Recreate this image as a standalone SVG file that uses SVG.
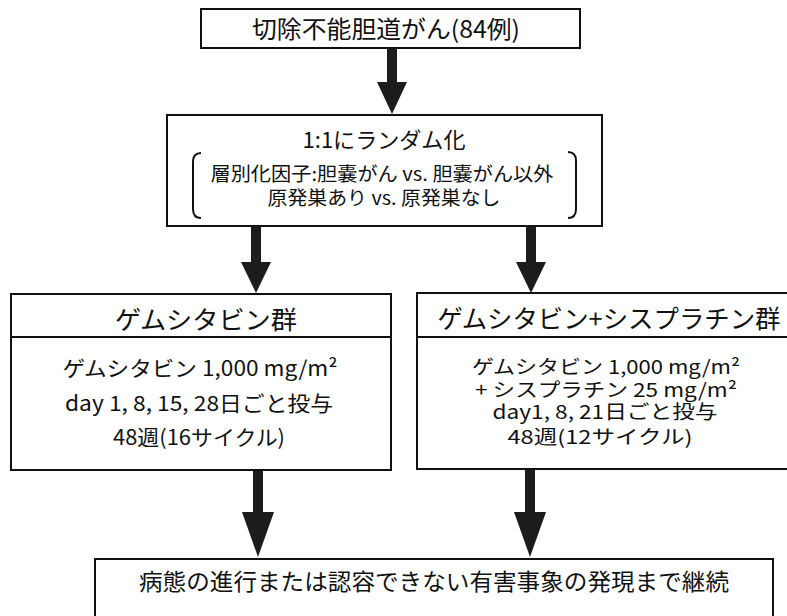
<svg xmlns="http://www.w3.org/2000/svg" width="787" height="616" viewBox="0 0 787 616">
<style>
.box{fill:#fff;stroke:#111;stroke-width:2}
.t{font-family:"Noto Sans CJK JP","Noto Sans",sans-serif;fill:#111;text-anchor:middle}
.arr{fill:#1c1c1c}
.br{fill:none;stroke:#111;stroke-width:2}
</style>
<rect width="787" height="616" fill="#fff"/>
<g id="connectors">
  <path class="arr" d="M387,48 H397 V82 H407 L392,114 L377,82 H387 Z"/>
  <path class="arr" d="M251,226 H261 V262 H271 L256,293 L241,262 H251 Z"/>
  <path class="arr" d="M526,226 H536 V262 H546 L531,293 L516,262 H526 Z"/>
  <path class="arr" d="M253,470 H263 V512 H274 L258,557 L242,512 H253 Z"/>
  <path class="arr" d="M525,470 H535 V512 H546 L530,557 L514,512 H525 Z"/>
</g>
<g id="n_top">
  <rect class="box" x="201" y="9" width="379" height="39"/>
  <text class="t" x="386" y="38" font-size="24" textLength="268" lengthAdjust="spacingAndGlyphs">切除不能胆道がん(84例)</text>
</g>
<g id="n_random">
  <rect class="box" x="167" y="115" width="435" height="111"/>
  <text class="t" x="384" y="148" font-size="22" textLength="163" lengthAdjust="spacingAndGlyphs">1:1にランダム化</text>
  <path class="br" d="M201,153 Q193,153 193,162 L193,209 Q193,218 201,218"/>
  <path class="br" d="M568,152 Q576,152 576,161 L576,209 Q576,218 568,218"/>
  <text class="t" x="382" y="181" font-size="19" textLength="343" lengthAdjust="spacingAndGlyphs">層別化因子:胆嚢がん vs. 胆嚢がん以外</text>
  <text class="t" x="384" y="205" font-size="19" textLength="233" lengthAdjust="spacingAndGlyphs">原発巣あり vs. 原発巣なし</text>
</g>
<g id="n_gem">
  <rect class="box" x="11" y="294" width="380" height="176"/>
  <line class="box" x1="11" y1="337" x2="391" y2="337"/>
  <text class="t" x="206" y="329" font-size="25" textLength="182" lengthAdjust="spacingAndGlyphs">ゲムシタビン群</text>
  <text class="t" x="200" y="376" font-size="21" textLength="275" lengthAdjust="spacingAndGlyphs">ゲムシタビン 1,000 mg/m²</text>
  <text class="t" x="199" y="411" font-size="21" textLength="268" lengthAdjust="spacingAndGlyphs">day 1, 8, 15, 28日ごと投与</text>
  <text class="t" x="199" y="445" font-size="21" textLength="172" lengthAdjust="spacingAndGlyphs">48週(16サイクル)</text>
</g>
<g id="n_gemcis">
  <rect class="box" x="417" y="293" width="380" height="176"/>
  <line class="box" x1="417" y1="337" x2="787" y2="337"/>
  <text class="t" x="609" y="328" font-size="25" textLength="343" lengthAdjust="spacingAndGlyphs">ゲムシタビン+シスプラチン群</text>
  <text class="t" x="606" y="374" font-size="19" textLength="268" lengthAdjust="spacingAndGlyphs">ゲムシタビン 1,000 mg/m²</text>
  <text class="t" x="606" y="397" font-size="19" textLength="262" lengthAdjust="spacingAndGlyphs">+ シスプラチン 25 mg/m²</text>
  <text class="t" x="605" y="419" font-size="19" textLength="225" lengthAdjust="spacingAndGlyphs">day1, 8, 21日ごと投与</text>
  <text class="t" x="600" y="444" font-size="19" textLength="185" lengthAdjust="spacingAndGlyphs">48週(12サイクル)</text>
</g>
<g id="n_bottom">
  <rect class="box" x="95" y="559" width="678" height="80"/>
  <text class="t" x="434" y="590" font-size="23" textLength="590" lengthAdjust="spacingAndGlyphs">病態の進行または認容できない有害事象の発現まで継続</text>
</g>
</svg>
